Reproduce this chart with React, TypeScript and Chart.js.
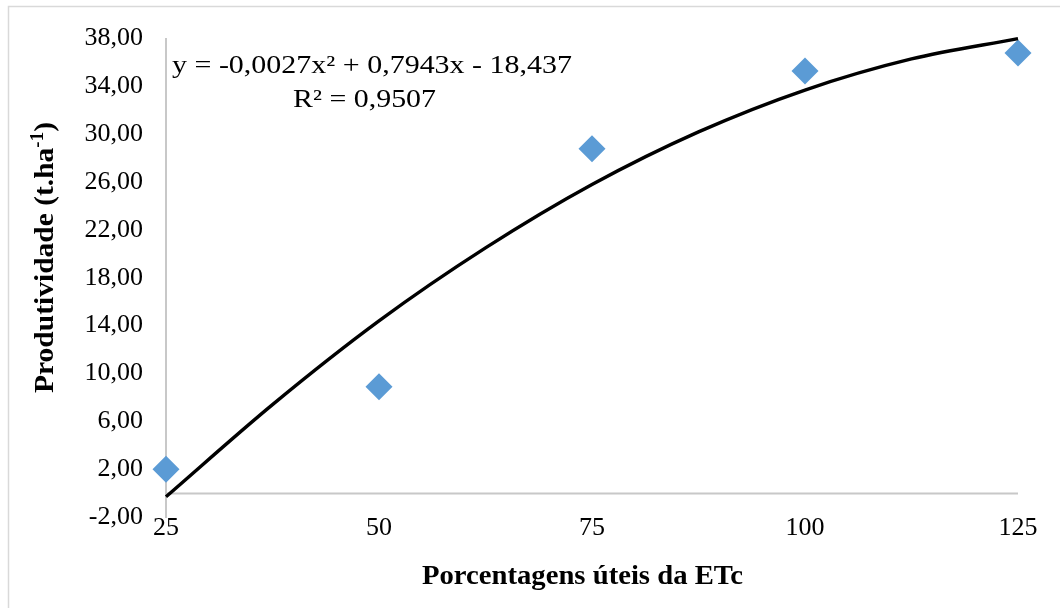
import React, { useEffect, useRef } from "react";
import { Chart, registerables } from "chart.js";

Chart.register(...registerables);

// ---- data ----
const etcPercent = [25, 50, 75, 100, 125];
const productivity = [2.0, 8.9, 28.8, 35.3, 36.8];
// trendline (polynomial, order 2)
const trendX = [25, 37.5, 50, 62.5, 75, 87.5, 100, 112.5, 125];
const trendY = [-0.3, 7.4, 14.4, 20.5, 25.8, 30.2, 33.7, 36.3, 38.0];
const xTicks = [25, 50, 75, 100, 125];
const yMin = -2;
const yMax = 38;
const yStep = 4;
const equationText = "y = -0,0027x\u00B2 + 0,7943x - 18,437";
const r2Text = "R\u00B2 = 0,9507";
const xTitle = "Porcentagens úteis da ETc";
const yTitleMain = "Produtividade (t.ha";
const yTitleSup = "-1";
const yTitleEnd = ")";

const SERIF = "'Liberation Serif', 'Times New Roman', serif";

function fitText(
  ctx: CanvasRenderingContext2D,
  text: string,
  cx: number,
  baseline: number,
  targetW: number,
  font: string
) {
  ctx.save();
  ctx.font = font;
  const w = ctx.measureText(text).width;
  const s = targetW / w;
  ctx.translate(cx, baseline);
  ctx.scale(s, 1);
  ctx.textAlign = "center";
  ctx.textBaseline = "alphabetic";
  ctx.fillStyle = "#000";
  ctx.fillText(text, 0, 0);
  ctx.restore();
}

const decorPlugin = {
  id: "decor",
  beforeDraw(chart: any) {
    const ctx = chart.ctx as CanvasRenderingContext2D;
    ctx.save();
    ctx.fillStyle = "#fff";
    ctx.fillRect(0, 0, chart.width, chart.height);
    ctx.strokeStyle = "#d9d9d9";
    ctx.lineWidth = 1.5;
    ctx.strokeRect(8.5, 6.5, 1200, 1200);
    ctx.restore();
  },
  beforeDatasetsDraw(chart: any) {
    const ctx = chart.ctx as CanvasRenderingContext2D;
    const ys = chart.scales.y;
    const area = chart.chartArea;
    const y0 = Math.round(ys.getPixelForValue(0)) + 0.5;
    ctx.save();
    ctx.strokeStyle = "#c8c8c8";
    ctx.lineWidth = 2;
    ctx.beginPath();
    ctx.moveTo(area.left, y0);
    ctx.lineTo(area.right, y0);
    ctx.stroke();
    ctx.restore();
  },
  afterDraw(chart: any) {
    const ctx = chart.ctx as CanvasRenderingContext2D;
    // equation and R²
    fitText(ctx, equationText, 372, 73, 400, `25px ${SERIF}`);
    fitText(ctx, r2Text, 364.5, 107, 143, `25px ${SERIF}`);
    // x-axis title
    fitText(ctx, xTitle, 582.5, 584, 321, `bold 28px ${SERIF}`);
    // y-axis title (rotated, with superscript)
    ctx.save();
    const mainFont = `bold 28px ${SERIF}`;
    const supFont = `bold 18px ${SERIF}`;
    ctx.font = mainFont;
    const w1 = ctx.measureText(yTitleMain).width;
    const w3 = ctx.measureText(yTitleEnd).width;
    ctx.font = supFont;
    const w2 = ctx.measureText(yTitleSup).width;
    const total = w1 + w2 + w3;
    const target = 271;
    const s = target / total;
    ctx.translate(53, 257.5);
    ctx.rotate(-Math.PI / 2);
    ctx.scale(s, 1);
    ctx.fillStyle = "#000";
    ctx.textAlign = "left";
    ctx.textBaseline = "alphabetic";
    let x = -total / 2;
    ctx.font = mainFont;
    ctx.fillText(yTitleMain, x, 0);
    x += w1;
    ctx.font = supFont;
    ctx.fillText(yTitleSup, x, -10);
    x += w2;
    ctx.font = mainFont;
    ctx.fillText(yTitleEnd, x, 0);
    ctx.restore();
  },
};

export default function App() {
  const canvasRef = useRef<HTMLCanvasElement | null>(null);

  useEffect(() => {
    const canvas = canvasRef.current;
    if (!canvas) return;
    const chart = new Chart(canvas, {
      data: {
        datasets: [
          {
            type: "line",
            label: "Tendência",
            data: trendX.map((x, i) => ({ x, y: trendY[i] })),
            borderColor: "#000",
            borderWidth: 3.4,
            pointRadius: 0,
            cubicInterpolationMode: "monotone",
            fill: false,
            clip: false,
          } as any,
          {
            type: "scatter",
            label: "Produtividade",
            data: etcPercent.map((x, i) => ({ x, y: productivity[i] })),
            pointStyle: "rectRot",
            pointRadius: 13.5,
            backgroundColor: "#5B9BD5",
            borderWidth: 0,
            clip: false,
          } as any,
        ],
      },
      options: {
        responsive: false,
        animation: false,
        events: [],
        layout: { padding: { left: 0, right: 42, top: 37, bottom: 0 } },
        plugins: {
          legend: { display: false },
          tooltip: { enabled: false },
          title: { display: false },
        },
        scales: {
          x: {
            type: "linear",
            min: 25,
            max: 125,
            grid: { display: false, drawTicks: false },
            border: { display: false },
            afterBuildTicks: (scale: any) => {
              scale.ticks = xTicks.map((v) => ({ value: v }));
            },
            afterFit: (scale: any) => {
              scale.height = 91;
            },
            ticks: {
              color: "#000",
              padding: -4,
              maxRotation: 0,
              autoSkip: false,
              font: { family: SERIF, size: 26 },
              callback: (v: any) => String(v),
            },
          },
          y: {
            type: "linear",
            min: yMin,
            max: yMax,
            grid: { display: false, drawTicks: false },
            border: { display: true, color: "#c8c8c8", width: 2 },
            afterFit: (scale: any) => {
              scale.width = 166;
            },
            ticks: {
              color: "#000",
              stepSize: yStep,
              padding: 23,
              font: { family: SERIF, size: 26 },
              callback: (v: any) => Number(v).toFixed(2).replace(".", ","),
            },
          },
        },
      } as any,
      plugins: [decorPlugin as any],
    });
    return () => chart.destroy();
  }, []);

  return (
    <div style={{ position: "absolute", left: 0, top: 0, width: 1060, height: 608 }}>
      <canvas ref={canvasRef} width={1060} height={608} style={{ display: "block" }} />
    </div>
  );
}
